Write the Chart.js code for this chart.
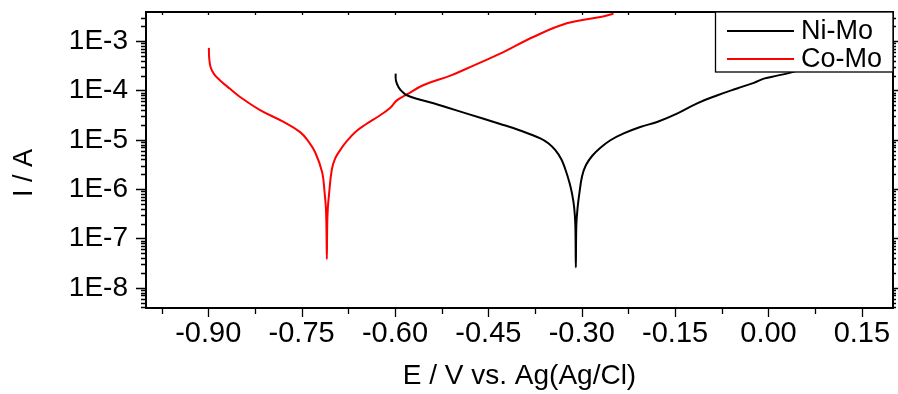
<!DOCTYPE html>
<html>
<head>
<meta charset="utf-8">
<title>Tafel plot Ni-Mo / Co-Mo</title>
<script src="https://cdn.jsdelivr.net/npm/chart.js@4.4.1/dist/chart.umd.min.js"></script>
<style>
  html, body { margin: 0; padding: 0; background: #fff; }
  canvas { display: block; }
</style>
</head>
<body>
<canvas id="tafelChart" width="898" height="394"></canvas>
<script>
// values (E in V, I in A)
const niMoPotential = [
  -0.599, -0.5985, -0.5945, -0.5885, -0.581, -0.5595, -0.538, -0.4845, -0.431, -0.399,
  -0.3666, -0.3537, -0.3424, -0.3328, -0.3264, -0.3199, -0.3156, -0.3122, -0.3103, -0.3095,
  -0.3087, -0.3066, -0.3039, -0.2995, -0.2934, -0.2834, -0.270, -0.254, -0.2326, -0.206,
  -0.179, -0.147, -0.1146, -0.082, -0.0505, -0.0236, -0.0075, 0.014, 0.0354, 0.060
];
const niMoCurrent = [
  2.2e-4, 1.6e-4, 1.18e-4, 9.5e-5, 8.0e-5, 6.5e-5, 5.5e-5, 3.4e-5, 2.1e-5, 1.55e-5,
  1.07e-5, 8.5e-6, 6.15e-6, 4.04e-6, 2.53e-6, 1.38e-6, 8.1e-7, 4.3e-7, 1.86e-7, 2.6e-8,
  1.86e-7, 4.3e-7, 8.1e-7, 1.83e-6, 3.05e-6, 4.7e-6, 6.9e-6, 9.8e-6, 1.35e-5, 1.82e-5,
  2.3e-5, 3.4e-5, 5.5e-5, 8.0e-5, 1.1e-4, 1.43e-4, 1.74e-4, 2.0e-4, 2.3e-4, 2.9e-4
];

const coMoPotential = [
  -0.899, -0.8985, -0.8963, -0.8907, -0.881, -0.865, -0.849, -0.8167, -0.7797, -0.7524,
  -0.7395, -0.7283, -0.717, -0.713, -0.711, -0.7102, -0.7095, -0.7089, -0.7079, -0.7058,
  -0.7015, -0.6961, -0.6881, -0.6768, -0.664, -0.6479, -0.6238, -0.608, -0.597, -0.581,
  -0.554, -0.511, -0.474, -0.431, -0.377, -0.324, -0.270, -0.249
];
const coMoCurrent = [
  7.3e-4, 4.6e-4, 3.0e-4, 2.15e-4, 1.6e-4, 1.08e-4, 7.4e-5, 4.0e-5, 2.33e-5, 1.43e-5,
  9.4e-6, 5.6e-6, 2.2e-6, 8.3e-7, 4.1e-7, 1.86e-7, 3.8e-8, 1.86e-7, 4.1e-7, 8.3e-7,
  2.5e-6, 4.2e-6, 6.2e-6, 9.6e-6, 1.43e-5, 2.02e-5, 3.15e-5, 4.4e-5, 6.3e-5, 8.3e-5,
  1.29e-4, 2.0e-4, 3.2e-4, 5.6e-4, 1.23e-3, 2.3e-3, 3.1e-3, 3.6e-3
];

const xTickValues = [-0.90, -0.75, -0.60, -0.45, -0.30, -0.15, 0.00, 0.15];
const yTickValues = [1e-8, 1e-7, 1e-6, 1e-5, 1e-4, 1e-3];

const X_MIN = -1.0;
const X_MAX = 0.2;
const Y_MIN = 3.9e-9;
const Y_MAX = 3.9e-3;

const FONT = "'Liberation Sans', Arial, Helvetica, sans-serif";

function toPoints(xs, ys) {
  return xs.map((x, i) => ({ x: x, y: ys[i] }));
}

// box frame with origin-style major/minor ticks
const frameTicks = {
  id: "frameTicks",
  afterDatasetsDraw(chart) {
    const { ctx, chartArea, scales } = chart;
    const { left, right, top, bottom } = chartArea;
    const xs = scales.x;
    const ys = scales.y;

    ctx.save();
    ctx.strokeStyle = "#000";
    ctx.lineWidth = 2;
    ctx.strokeRect(left, top, right - left, bottom - top);

    ctx.beginPath();
    // x ticks
    for (let v = -0.975; v <= X_MAX + 1e-9; v += 0.075) {
      const major = xTickValues.some(t => Math.abs(t - v) < 1e-6);
      const px = Math.round(xs.getPixelForValue(v)) + 0.5;
      ctx.moveTo(px, bottom);
      ctx.lineTo(px, bottom + (major ? 9 : 6));
      ctx.moveTo(px, top);
      ctx.lineTo(px, top + 3);
    }
    // y ticks
    for (let e = -9; e <= -3; e++) {
      for (let k = 1; k <= 9; k++) {
        const v = k * Math.pow(10, e);
        if (v < Y_MIN || v > Y_MAX) continue;
        const major = k === 1;
        const py = Math.round(ys.getPixelForValue(v)) + 0.5;
        ctx.moveTo(left, py);
        ctx.lineTo(left - (major ? 10 : 5), py);
        ctx.moveTo(right, py);
        ctx.lineTo(right + (major ? 5 : 3), py);
      }
    }
    ctx.lineWidth = 1.3;
    ctx.stroke();

    // y axis title
    ctx.fillStyle = "#000";
    ctx.font = "27px " + FONT;
    ctx.textAlign = "center";
    ctx.textBaseline = "middle";
    ctx.translate(25, 173);
    ctx.rotate(-Math.PI / 2);
    ctx.fillText("I / A", 0, 0);
    ctx.restore();
  }
};

// boxed legend with white fill, top right
const boxLegend = {
  id: "boxLegend",
  afterDraw(chart) {
    const { ctx, chartArea } = chart;
    const boxRight = chartArea.right;
    const boxLeft = boxRight - 178;
    const boxTop = chartArea.top;
    const boxBottom = boxTop + 60;

    ctx.save();
    ctx.fillStyle = "#fff";
    ctx.fillRect(boxLeft, boxTop, boxRight - boxLeft, boxBottom - boxTop);
    ctx.strokeStyle = "#000";
    ctx.lineWidth = 1.3;
    ctx.strokeRect(boxLeft + 0.5, boxTop, boxRight - boxLeft - 0.5, boxBottom - boxTop);

    ctx.font = "27px " + FONT;
    ctx.textAlign = "left";
    ctx.textBaseline = "middle";
    chart.data.datasets.forEach((ds, i) => {
      const y = boxTop + 19 + i * 28;
      ctx.strokeStyle = ds.borderColor;
      ctx.lineWidth = 2;
      ctx.beginPath();
      ctx.moveTo(boxLeft + 12, y);
      ctx.lineTo(boxLeft + 79, y);
      ctx.stroke();
      ctx.fillStyle = "#000";
      ctx.fillText(ds.label, boxLeft + 86, y + 1);
    });
    ctx.restore();
  }
};

new Chart(document.getElementById("tafelChart"), {
  type: "scatter",
  data: {
    datasets: [
      {
        label: "Ni-Mo",
        data: toPoints(niMoPotential, niMoCurrent),
        borderColor: "#000000",
        backgroundColor: "#000000",
        showLine: true,
        borderWidth: 2,
        pointRadius: 0,
        tension: 0.4
      },
      {
        label: "Co-Mo",
        data: toPoints(coMoPotential, coMoCurrent),
        borderColor: "#ff0000",
        backgroundColor: "#ff0000",
        showLine: true,
        borderWidth: 2,
        pointRadius: 0,
        tension: 0.4
      }
    ]
  },
  options: {
    responsive: false,
    devicePixelRatio: 1,
    animation: false,
    layout: {
      padding: { left: 0, right: 5, top: 12, bottom: 0 }
    },
    scales: {
      x: {
        type: "linear",
        min: X_MIN,
        max: X_MAX,
        afterBuildTicks(scale) {
          scale.ticks = xTickValues.map(v => ({ value: v }));
        },
        afterFit(scale) {
          scale.height = 86;
          scale.paddingLeft = 0;
          scale.paddingRight = 0;
        },
        border: { display: false },
        grid: { display: false, drawTicks: false },
        ticks: {
          padding: 9,
          color: "#000",
          font: { family: FONT, size: 29 },
          maxRotation: 0,
          callback: value => value.toFixed(2)
        },
        title: {
          display: true,
          text: "E / V vs. Ag(Ag/Cl)",
          color: "#000",
          font: { family: FONT, size: 28 },
          padding: { top: 0, bottom: 1 }
        }
      },
      y: {
        type: "logarithmic",
        min: Y_MIN,
        max: Y_MAX,
        afterBuildTicks(scale) {
          scale.ticks = yTickValues.map(v => ({ value: v }));
        },
        afterFit(scale) {
          scale.width = 146;
          scale.paddingTop = 0;
          scale.paddingBottom = 0;
        },
        border: { display: false },
        grid: { display: false, drawTicks: false },
        ticks: {
          padding: 18,
          color: "#000",
          font: { family: FONT, size: 28 },
          callback: value => "1E" + Math.round(Math.log10(value))
        }
      }
    },
    plugins: {
      legend: { display: false },
      tooltip: { enabled: false }
    }
  },
  plugins: [frameTicks, boxLegend]
});
</script>
</body>
</html>
